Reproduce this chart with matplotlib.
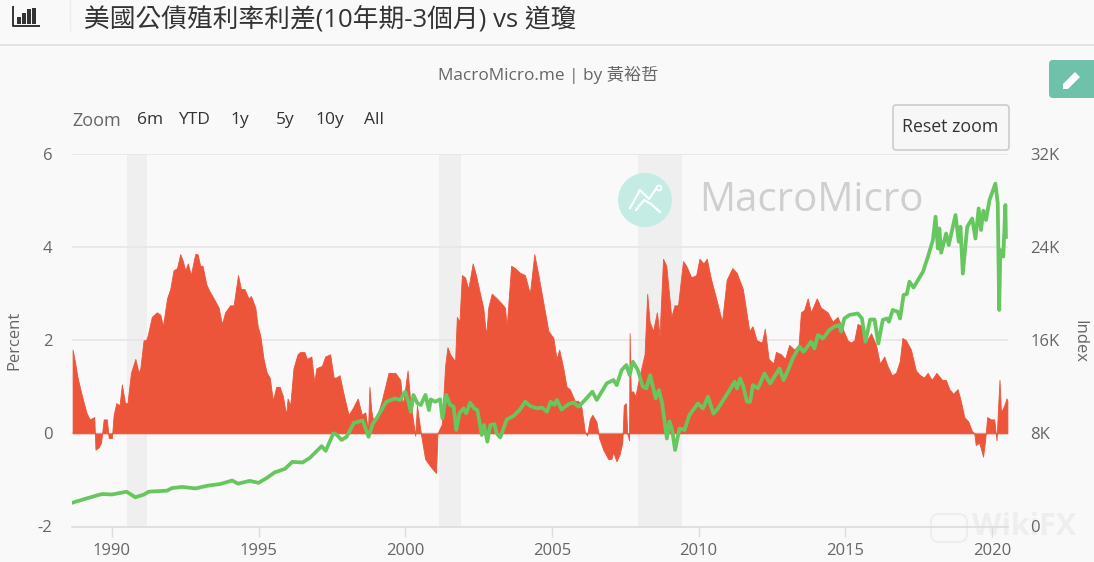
import matplotlib
matplotlib.use('Agg')
import matplotlib.pyplot as plt
from matplotlib.patches import Circle, FancyBboxPatch, Polygon, Rectangle

plt.rcParams['font.family'] = ['Open Sans', 'Noto Sans CJK TC', 'DejaVu Sans']
plt.rcParams['axes.unicode_minus'] = False

spread_years = [
    1988.66,1988.75,1988.83,1988.98,1989.13,1989.24,1989.40,1989.44,1989.55,1989.63,1989.72,1989.83,1989.89,
    1990.00,1990.06,1990.15,1990.26,1990.34,1990.45,1990.53,1990.65,1990.80,1990.91,1990.97,1991.08,1991.16,
    1991.22,1991.36,1991.53,1991.65,1991.74,1991.88,1991.99,1992.10,1992.22,1992.33,1992.42,1992.50,1992.59,
    1992.69,1992.84,1992.92,1993.01,1993.09,1993.22,1993.33,1993.47,1993.64,1993.75,1993.86,1994.03,1994.15,
    1994.30,1994.40,1994.52,1994.66,1994.74,1994.89,1994.97,1995.06,1995.17,1995.28,1995.38,1995.49,1995.60,
    1995.72,1995.83,1995.94,1995.99,1996.08,1996.19,1996.33,1996.42,1996.56,1996.65,1996.80,1996.90,1996.97,
    1997.16,1997.27,1997.44,1997.56,1997.65,1997.76,1997.88,1997.99,1998.07,1998.22,1998.38,1998.52,1998.64,
    1998.73,1998.78,1998.84,1998.90,1999.03,1999.20,1999.43,1999.66,1999.83,1999.92,2000.08,2000.17,2000.34,
    2000.40,2000.51,2000.57,2000.68,2000.79,2000.91,2001.05,2001.10,2001.25,2001.36,2001.44,2001.53,2001.70,
    2001.76,2001.85,2001.93,2002.04,2002.15,2002.30,2002.41,2002.55,2002.66,2002.76,2002.83,2002.95,2003.12,
    2003.27,2003.40,2003.46,2003.61,2003.74,2003.91,2004.08,2004.25,2004.40,2004.54,2004.71,2004.88,2005.05,
    2005.16,2005.25,2005.39,2005.50,2005.61,2005.78,2005.90,2006.01,2006.12,2006.20,2006.29,2006.38,2006.52,
    2006.61,2006.75,2006.92,2007.03,2007.09,2007.20,2007.31,2007.40,2007.45,2007.52,2007.57,2007.63,2007.65,
    2007.69,2007.77,2007.85,2007.94,2008.05,2008.16,2008.25,2008.33,2008.45,2008.58,2008.67,2008.79,2008.90,
    2009.07,2009.18,2009.30,2009.47,2009.58,2009.75,2009.92,2010.03,2010.17,2010.28,2010.43,2010.60,2010.80,
    2010.96,2011.15,2011.30,2011.51,2011.73,2011.84,2011.98,2012.16,2012.26,2012.39,2012.55,2012.64,2012.81,
    2012.95,2013.09,2013.26,2013.41,2013.49,2013.60,2013.72,2013.83,2014.03,2014.17,2014.40,2014.57,2014.74,
    2014.91,2015.08,2015.19,2015.31,2015.42,2015.59,2015.70,2015.88,2016.05,2016.18,2016.33,2016.44,2016.59,
    2016.73,2016.86,2016.95,2017.07,2017.24,2017.41,2017.55,2017.69,2017.81,2017.95,2018.11,2018.30,2018.43,
    2018.55,2018.68,2018.83,2018.94,2019.06,2019.20,2019.32,2019.40,2019.45,2019.57,2019.70,2019.77,2019.84,
    2019.97,2020.08,2020.16,2020.20,2020.26,2020.31,2020.42,2020.50,2020.53,
]
spread = [
    1.8,1.5,1.2,.8,.45,.3,.35,-.35,-.3,-.2,.3,.3,-.1,
    -.1,.4,.65,.6,1.05,.65,.65,1.3,1.6,1.3,1.4,2.0,2.0,
    2.1,2.5,2.6,2.55,2.3,2.9,3.1,3.5,3.55,3.85,3.7,3.5,3.65,
    3.4,3.85,3.85,3.6,3.6,3.2,3.05,2.9,2.7,2.35,2.6,2.75,2.75,
    3.4,3.1,3.1,2.9,2.95,2.7,2.3,2.1,1.6,1.3,1.2,.7,1.0,
    1.0,.8,.4,.75,.6,1.4,1.7,1.75,1.75,1.6,1.65,1.1,1.4,
    1.45,1.65,1.7,1.2,1.2,1.25,.9,.6,.4,.55,.75,.4,.45,
    .05,1.0,.5,.3,.35,.7,1.3,1.3,1.15,.6,1.35,.7,-.05,
    .6,.1,-.15,-.55,-.65,-.75,-.85,0,.2,1.45,1.85,1.7,1.55,
    2.5,2.4,3.4,3.35,3.1,3.65,3.4,3.0,2.7,2.1,2.7,3.0,2.9,
    2.8,2.7,2.3,3.6,3.55,3.45,3.4,3.0,3.85,3.4,2.8,2.2,2.05,
    1.6,1.8,1.4,1.0,.95,.7,.7,.55,.05,-.05,.3,.4,.25,
    -.1,-.35,-.55,-.55,-.4,-.6,-.45,-.2,.6,.65,0,-.15,2.15,
    .9,.9,.8,1.1,1.4,1.7,3.0,2.4,2.2,2.6,2.1,3.75,3.6,
    2.5,2.75,2.75,3.7,3.6,3.35,3.4,3.75,3.65,3.75,3.3,2.9,2.4,
    3.3,3.55,3.45,3.1,2.2,2.3,2.0,1.95,2.25,1.6,1.5,1.75,1.7,
    1.6,1.9,1.8,1.9,2.6,2.65,2.9,2.6,2.9,2.7,2.6,2.4,2.5,
    2.25,2.0,1.95,2.0,2.35,2.3,1.95,2.15,1.9,1.5,1.65,1.45,1.25,
    1.3,1.55,2.05,2.0,1.8,1.35,1.25,1.2,1.3,1.15,1.3,1.15,1.15,
    .95,.85,.95,.7,.35,.25,.05,0,-.25,-.2,-.5,-.15,.35,
    .3,.3,-.15,.4,1.15,.45,.6,.75,.7,
]

dow_years = [
    1988.66,1989.15,1989.66,1990.00,1990.50,1990.80,1991.10,1991.25,1991.88,1992.05,1992.40,1992.85,1993.25,
    1993.70,1994.10,1994.30,1994.70,1995.00,1995.30,1995.55,1995.90,1996.15,1996.50,1996.75,1997.15,1997.29,
    1997.55,1997.66,1997.83,1998.00,1998.25,1998.55,1998.75,1998.89,1999.05,1999.35,1999.65,
    1999.83,2000.00,2000.11,2000.19,2000.28,2000.42,2000.53,2000.69,2000.81,2000.87,2001.02,2001.19,2001.27,
    2001.40,2001.53,2001.65,2001.74,2001.85,2001.99,2002.08,2002.21,2002.35,2002.46,2002.61,2002.69,2002.80,
    2002.90,2003.04,2003.12,2003.24,2003.46,2003.69,2003.90,2004.09,2004.26,2004.49,2004.66,2004.83,2004.96,
    2005.08,2005.17,2005.33,2005.57,2005.74,2005.91,2006.13,2006.38,2006.53,2006.87,2007.10,2007.21,2007.38,
    2007.54,2007.65,2007.76,2007.93,2008.10,2008.22,2008.35,2008.54,2008.65,2008.76,2008.88,2008.92,2009.01,
    2009.10,2009.20,2009.35,2009.52,2009.69,2009.98,2010.15,2010.32,2010.51,2010.66,2011.06,2011.23,2011.31,
    2011.42,2011.53,2011.65,2011.76,2011.85,2012.02,2012.25,2012.44,2012.76,2012.90,2013.10,
    2013.21,2013.44,2013.58,2013.84,2013.95,2014.07,2014.24,2014.46,2014.63,2014.80,2014.86,2014.97,2015.14,
    2015.43,2015.57,2015.69,2015.85,2016.00,2016.13,2016.28,2016.42,2016.49,2016.62,2016.79,2016.87,
    2016.99,2017.10,2017.19,2017.33,2017.65,2017.82,2017.99,2018.08,2018.16,2018.21,2018.27,2018.44,2018.53,
    2018.76,2018.87,2018.93,2019.01,2019.16,2019.33,2019.44,2019.55,2019.63,2019.71,2019.80,2019.92,2020.12,
    2020.20,2020.25,2020.29,2020.39,2020.46,2020.48,
]
dow = [
    2050,2420,2790,2750,2990,2510,2750,2990,3080,3300,3400,3270,3500,
    3650,3950,3680,3920,3750,4200,4650,4950,5550,5500,5900,6900,6500,
    8000,7900,7430,7700,8900,9100,7700,8800,9400,10700,11000,
    10870,11580,10720,9860,11300,10570,10440,11300,10000,10920,10720,10920,9290,
    11300,10440,10300,8290,9720,10150,9720,10640,10150,10000,7860,8720,7290,
    8720,8800,7990,7650,9190,9490,10000,10720,10350,10150,10220,9860,10720,
    10440,10870,10050,10520,10650,10290,10870,11580,10870,12300,12580,12150,13440,
    13870,13010,14160,13440,12010,11860,13010,11000,11720,10570,8290,7560,9020,
    8290,6570,8420,8290,9580,10570,10140,11150,9700,10140,11720,12440,11860,
    12710,12010,10720,10720,12150,11860,13140,12280,13570,12580,13720,
    14440,15450,15020,15870,15300,16450,16150,16880,17160,17310,16740,17870,18170,
    18300,17870,15870,17780,17780,15720,17740,17870,17590,18600,18450,17870,
    19890,19970,21030,20530,21880,23170,24610,26610,23880,25600,23520,25170,24180,
    26760,24470,25750,21730,25750,26460,24740,27320,25470,27130,26330,28050,29460,
    27750,18600,23750,23190,27620,24890,
]

recession_start = [1990.51, 2001.14, 2007.92]
recession_end = [1991.19, 2001.89, 2009.45]

year_ticks = [1990, 1995, 2000, 2005, 2010, 2015, 2020]
percent_ticks = [-2, 0, 2, 4, 6]
index_ticks = [0, 8000, 16000, 24000, 32000]
index_labels = ['0', '8K', '16K', '24K', '32K']
range_buttons = ['6m', 'YTD', '1y', '5y', '10y', 'All']

W, H = 1094, 562
bg = '#f9f9f9'
red = '#ec553a'
green = '#66c75f'
grey = '#666666'

fig = plt.figure(figsize=(W / 100, H / 100), dpi=100)
fig.patch.set_facecolor(bg)

# page furniture, in pixel coordinates
page = fig.add_axes([0, 0, 1, 1], zorder=0)
page.set_xlim(0, W)
page.set_ylim(H, 0)
page.axis('off')

page.plot([0, W], [45, 45], color='#e0e0e0', lw=1.2)
page.plot([70, 70], [0, 30], color='#ececec', lw=1)
page.plot([12.5, 12.5, 39], [7, 26, 26], color='#333333', lw=1.4)
for bx, top in zip([17, 22, 27, 32], [17, 13, 9, 8]):
    page.add_patch(Rectangle((bx, top), 3.5, 24 - top, color='#333333', lw=0))
page.text(84, 19, '美國公債殖利率利差(10年期-3個月) vs 道瓊', fontsize=18.5, color='#333333', va='center')
page.text(548, 75, 'MacroMicro.me | by 黃裕哲', fontsize=12.4, color=grey, ha='center', va='center')

page.text(72, 121, 'Zoom', fontsize=13, color=grey, va='center')
for label, cx in zip(range_buttons, [150, 194, 240, 285, 330, 374]):
    page.text(cx, 120.5, label, fontsize=12.5, color='#333333', ha='center', va='center')

page.add_patch(FancyBboxPatch((895, 107), 112, 41, boxstyle='round,pad=2,rounding_size=3',
                              fc='#f7f7f7', ec='#cccccc', lw=1.2))
page.text(950, 127, 'Reset zoom', fontsize=12.8, color='#333333', ha='center', va='center')

page.add_patch(FancyBboxPatch((1052, 63), 50, 32, boxstyle='round,pad=3,rounding_size=4',
                              fc='#6fc1aa', ec='none'))
page.add_patch(Polygon([[1063, 84], [1075, 72], [1080, 77], [1068, 89], [1063, 89]], fc='white', ec='none'))

page.text(699, 201, 'MacroMicro', fontsize=29, color='#cfcfcf', va='center')
page.add_patch(FancyBboxPatch((933, 516), 32, 24, boxstyle='round,pad=2,rounding_size=8',
                              fc='none', ec='#eeeeee', lw=1.5))
page.text(972, 527, 'WikiFX', fontsize=22, color='#eeeeee', va='center', fontweight='bold')

# spread on the left scale
ax = fig.add_axes([72 / W, (H - 526.5) / H, 936 / W, 372.5 / H], zorder=1)
ax.patch.set_alpha(0)
for start, end in zip(recession_start, recession_end):
    ax.axvspan(start, end, color='#efefef', lw=0, zorder=0)
ax.fill_between(spread_years, spread, 0, color=red, lw=0.6, zorder=2)
ax.set_xlim(1988.64, 2020.55)
ax.set_ylim(-2, 6)
ax.set_xticks(year_ticks)
ax.set_yticks(percent_ticks)
ax.grid(True, axis='y', color='#e6e6e6', lw=1.2, zorder=1)
ax.set_axisbelow(True)
ax.tick_params(axis='x', length=7, width=1, color='#dddddd', labelcolor=grey, labelsize=12, pad=5)
ax.tick_params(axis='y', length=0, labelcolor=grey, labelsize=12, pad=14)
for side in ['top', 'left', 'right']:
    ax.spines[side].set_visible(False)
ax.spines['bottom'].set_color('#dddddd')
ax.spines['bottom'].set_linewidth(1.2)

# Dow on the right scale
ax2 = ax.twinx()
ax2.patch.set_alpha(0)
ax2.plot(dow_years, dow, color=green, lw=2.7, solid_joinstyle='round')
ax2.set_ylim(0, 32000)
ax2.set_yticks(index_ticks)
ax2.set_yticklabels(index_labels)
ax2.tick_params(axis='y', length=0, labelcolor=grey, labelsize=12, pad=16)
for spine in ax2.spines.values():
    spine.set_visible(False)

page.text(14, 340, 'Percent', fontsize=12, color=grey, rotation=90, ha='center', va='center')
page.text(1079, 341, 'Index', fontsize=12, color=grey, rotation=270, ha='center', va='center')

# logo sits over the recession band
top = fig.add_axes([0, 0, 1, 1], zorder=3)
top.set_xlim(0, W)
top.set_ylim(H, 0)
top.axis('off')
top.add_patch(Circle((645, 200), 27, fc='#c4ece4', ec='none'))
top.plot([630, 640, 649, 656], [208, 190, 199, 189], color='white', lw=1.6)
top.plot([636, 644, 651, 660], [210, 200, 204, 212], color='white', lw=1.6)
top.add_patch(Circle((659, 188), 2.5, fc='none', ec='white', lw=1.2))

fig.savefig('out.png', dpi=100, facecolor=fig.get_facecolor())
